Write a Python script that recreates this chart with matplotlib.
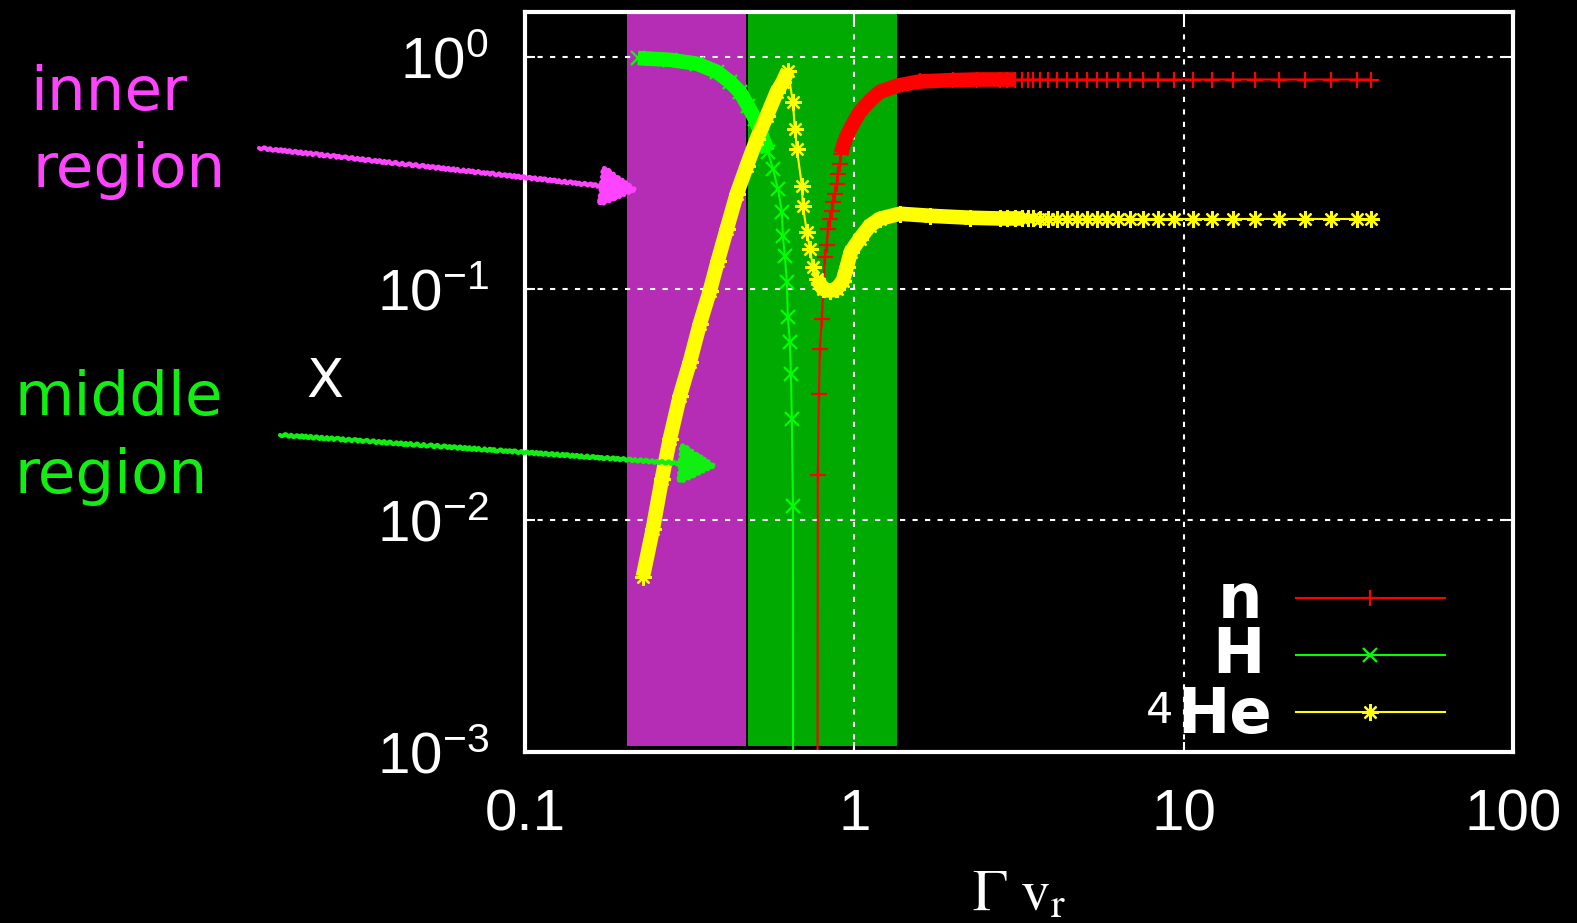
import matplotlib
matplotlib.use("Agg")
import matplotlib.pyplot as plt
from matplotlib.lines import Line2D
from matplotlib.patches import FancyArrowPatch

# ---------------- data ----------------
xtick_vals = [0.1, 1, 10, 100]
xtick_labels = ["0.1", "1", "10", "100"]
ytick_vals = [1e-3, 1e-2, 1e-1, 1]

inner_region = (0.2035, 0.4676)
middle_region = (0.4742, 1.343)

# shared sparse tail of the x grid (n and 4He)
tail_x = [2.765, 2.903, 3.070, 3.224, 3.362, 3.481, 3.656, 3.866, 4.117, 4.415,
          4.734, 5.077, 5.445, 5.84, 6.306, 6.858, 7.508, 8.339, 9.326, 10.65,
          12.16, 14.09, 16.43, 19.42, 23.29, 27.93, 33.5, 36.94]

# neutrons
n_x = [0.772, 0.7747, 0.7803, 0.7857, 0.7968, 0.8137, 0.825, 0.8312, 0.8425,
       0.8545, 0.8604, 0.8726, 0.885, 0.8911, 0.9035, 0.9098, 0.929, 0.949,
       0.9826, 1.039, 1.114, 1.195, 1.346, 1.58, 1.99, 2.35] + tail_x
n_y = [1e-4, 0.0157, 0.0352, 0.0551, 0.0742, 0.1374, 0.1549, 0.1815, 0.2004,
       0.217, 0.2373, 0.257, 0.284, 0.3135, 0.3463, 0.3825, 0.4224, 0.4575,
       0.5053, 0.5806, 0.6476, 0.708, 0.7517, 0.785, 0.795, 0.80] + \
      [0.80] * 28

# protons (H)
h_x = [0.220, 0.2755, 0.3327, 0.3825, 0.4189, 0.4492, 0.4751, 0.4989, 0.524,
       0.5464, 0.566, 0.586, 0.6026, 0.6067, 0.615, 0.624, 0.628, 0.637,
       0.642, 0.646, 0.651, 0.652]
h_y = [0.99, 0.973, 0.936, 0.864, 0.782, 0.708, 0.616, 0.542, 0.4575, 0.390,
       0.3295, 0.270, 0.215, 0.169, 0.139, 0.107, 0.0757, 0.059, 0.043,
       0.0275, 0.0115, 1e-4]

# 4He
he_x = [0.228, 0.2446, 0.2605, 0.2755, 0.2954, 0.3168, 0.3397, 0.3643, 0.3851,
        0.4102, 0.4398, 0.4717, 0.5059, 0.5427, 0.5819, 0.6067, 0.6284,
        0.6506, 0.6598, 0.6691, 0.6929, 0.6977, 0.7174, 0.7327, 0.7484,
        0.7695, 0.8024, 0.8425, 0.885, 0.9228, 0.949, 0.9759, 1.039, 1.114,
        1.195, 1.374, 1.695, 2.241] + tail_x
he_y = [0.00571, 0.00922, 0.01514, 0.02253, 0.0345, 0.0484, 0.0706, 0.098,
        0.132, 0.1815, 0.257, 0.3396, 0.444, 0.558, 0.708, 0.782, 0.873,
        0.641, 0.490, 0.402, 0.2784, 0.2283, 0.1762, 0.1488, 0.1245, 0.1104,
        0.100, 0.098, 0.100, 0.1083, 0.1245, 0.1444, 0.1643, 0.187, 0.2004,
        0.2107, 0.2065, 0.2025] + [0.201] * 6 + [0.200] * 22

# index ranges where the markers are so dense that they merge into a band
n_bands = [(15, 29)]
h_bands = [(0, 10)]
he_bands = [(0, 17), (25, 42)]

labels = ["n", "H", "He"]
colors = ["#ff0000", "#00ff00", "#ffff00"]
markers = ["+", "x", (8, 2, 0)]
msizes = [11, 10, 12]

# ---------------- style ----------------
plt.rcParams["font.family"] = ["Liberation Sans Narrow", "Liberation Sans", "DejaVu Sans"]
plt.rcParams["mathtext.fontset"] = "custom"
plt.rcParams["mathtext.rm"] = "Liberation Sans Narrow"
plt.rcParams["mathtext.it"] = "Liberation Sans Narrow:italic"
plt.rcParams["mathtext.bf"] = "Liberation Sans Narrow:bold"
plt.rcParams["mathtext.sf"] = "Liberation Sans Narrow"
plt.rcParams["axes.unicode_minus"] = True

W, H = 1577, 923
fig = plt.figure(figsize=(W / 100, H / 100), dpi=100, facecolor="black")
ax = fig.add_axes([525 / W, 1 - 752 / H, 988 / W, 740 / H])
ax.set_facecolor("black")
ax.set_xscale("log")
ax.set_yscale("log")
ax.set_xlim(0.1, 100)
ax.set_ylim(1e-3, 1.565)

ax.axvspan(*inner_region, ymin=0.0085, ymax=1, color="#b42db4", lw=0, zorder=1)
ax.axvspan(*middle_region, ymin=0.0085, ymax=1, color="#00aa00", lw=0, zorder=1)

ax.set_axisbelow("line")
ax.grid(True, which="major", color="white", lw=1.5, linestyle=(0, (2.5, 3.5)))
ax.minorticks_off()

ax.set_xticks(xtick_vals, xtick_labels)
ax.set_yticks(ytick_vals)
ax.tick_params(which="major", direction="in", length=7.5, width=1.5, color="white",
               top=True, right=True, labelcolor="white", labelsize=42)
ax.tick_params(axis="x", pad=26)
ax.tick_params(axis="y", pad=26)
ax.tick_params(which="minor", length=0)
for sp in ax.spines.values():
    sp.set_color("white")
    sp.set_linewidth(3)
    sp.set_zorder(5)

series = [(n_x, n_y, n_bands), (h_x, h_y, h_bands), (he_x, he_y, he_bands)]
for (x, y, bands), c, m, ms in zip(series, colors, markers, msizes):
    ax.plot(x, y, color=c, lw=1.5, marker=m, ms=ms, mew=1.6, zorder=3)
    for a, b in bands:
        ax.plot(x[a:b], y[a:b], color=c, lw=10.5, solid_capstyle="butt", zorder=3)

# axis labels
ax.set_xlabel(r"$\Gamma\ \mathrm{v}_\mathrm{r}$", color="white", fontsize=42,
              math_fontfamily="stix")
ax.xaxis.set_label_coords(0.5, -(910 - 752) / 740)
ax.xaxis.label.set_va("baseline")
ax.set_ylabel("X", color="white", fontsize=39, rotation=0, family="DejaVu Sans")
ax.yaxis.set_label_coords((325 - 525) / 988, 0.5)
ax.yaxis.label.set_va("center")
ax.yaxis.label.set_ha("center")

# legend (gnuplot style: right-aligned label, sample line to the right)
leg_line_y = [(752 - 598) / 740, (752 - 655) / 740, (752 - 712) / 740]
leg_text_y = [(752 - 618) / 740, (752 - 673) / 740, (752 - 733) / 740]
leg_text_x = [0.746, 0.749, 0.756]
he_text = None
for lab, c, m, ms, ly, ty, tx in zip(labels, colors, markers, msizes,
                                     leg_line_y, leg_text_y, leg_text_x):
    ax.add_line(Line2D([0.780, 0.931], [ly, ly], transform=ax.transAxes,
                       color=c, lw=1.5, zorder=6))
    ax.add_line(Line2D([0.8555], [ly], transform=ax.transAxes, color=c,
                       marker=m, ms=ms, mew=1.6, lw=0, zorder=6))
    he_text = ax.text(tx, ty, lab, transform=ax.transAxes, ha="right", va="baseline",
                      color="white", fontsize=45, fontweight="bold",
                      family="DejaVu Sans", zorder=6)
# mass number of 4He as a small raised prefix
ax.annotate("4", xy=(0, 1), xycoords=he_text, xytext=(-3, -3),
            textcoords="offset points", ha="right", va="top", color="white",
            fontsize=31, family="DejaVu Sans", zorder=6)

# region annotations
mag = "#ff44ff"
grn = "#11ee11"
fig.text(30 / W, 1 - 110 / H, "inner", color=mag, fontsize=44, family="DejaVu Sans",
         ha="left", va="baseline")
fig.text(32 / W, 1 - 187 / H, "region", color=mag, fontsize=44, family="DejaVu Sans",
         ha="left", va="baseline")
fig.text(14 / W, 1 - 415 / H, "middle", color=grn, fontsize=44, family="DejaVu Sans",
         ha="left", va="baseline")
fig.text(14 / W, 1 - 493 / H, "region", color=grn, fontsize=44, family="DejaVu Sans",
         ha="left", va="baseline")

for (x0, y0), (x1, y1), c in [((259, 148), (638, 190), mag),
                              ((280, 435), (717, 466), grn)]:
    arr = FancyArrowPatch((x0 / W, 1 - y0 / H), (x1 / W, 1 - y1 / H),
                          transform=fig.transFigure,
                          arrowstyle="-|>,head_length=2.3,head_width=1.3",
                          mutation_scale=10, lw=3, color=c,
                          shrinkA=0, shrinkB=0, zorder=10)
    arr.set_sketch_params(1.2, 6, 2)
    fig.add_artist(arr)

fig.savefig("out.png", dpi=100, facecolor="black")
